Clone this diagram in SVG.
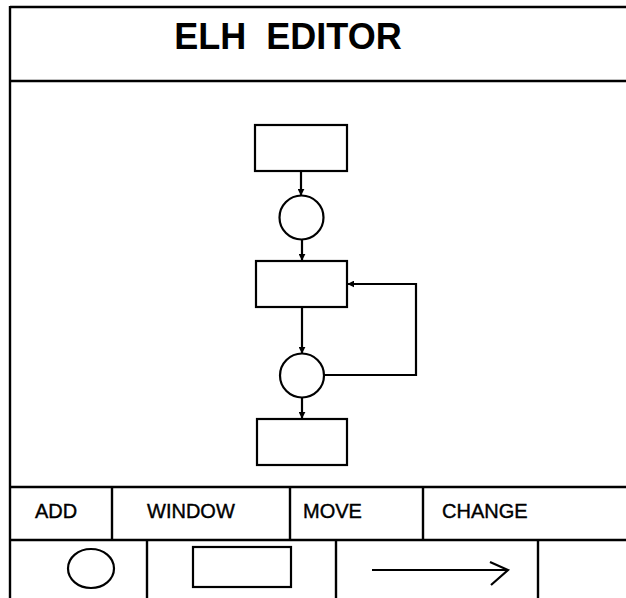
<svg xmlns="http://www.w3.org/2000/svg" width="626" height="598" viewBox="0 0 626 598">
  <style>
    .frame { stroke: #000; stroke-width: 2.4; fill: none; }
    .shape { stroke: #000; stroke-width: 2.2; fill: #fff; }
    .edge { stroke: #000; stroke-width: 2.2; fill: none; }
    .title { font-family: "Liberation Sans", Arial, sans-serif; font-size: 36px; font-weight: bold; fill: #000; }
    .menu { font-family: "Liberation Sans", Arial, sans-serif; font-size: 20px; fill: #000; stroke: #000; stroke-width: 0.4; }
  </style>
  <defs>
    <marker id="arrowhead" viewBox="0 0 10 10" refX="9" refY="5" markerWidth="7" markerHeight="7" markerUnits="userSpaceOnUse" orient="auto">
      <path d="M0,0 L10,5 L0,10 Z" fill="#000"/>
    </marker>
  </defs>
  <rect width="626" height="598" fill="#fff"/>

  <!-- window frame -->
  <g id="frame">
    <line class="frame" x1="10" y1="7" x2="626" y2="7"/>
    <line class="frame" x1="10" y1="6" x2="10" y2="598"/>
    <line class="frame" x1="10" y1="81" x2="626" y2="81"/>
    <line class="frame" x1="10" y1="487" x2="626" y2="487"/>
    <line class="frame" x1="10" y1="540" x2="626" y2="540"/>
  </g>

  <!-- title bar -->
  <g id="title">
    <text class="title" x="288" y="49" text-anchor="middle" xml:space="preserve">ELH  EDITOR</text>
  </g>

  <!-- structure diagram nodes -->
  <g id="box1"><rect class="shape" x="255" y="125" width="92" height="46"/></g>
  <g id="circle1"><circle class="shape" cx="301.5" cy="217.5" r="22"/></g>
  <g id="box2"><rect class="shape" x="256" y="261" width="91" height="46"/></g>
  <g id="circle2"><circle class="shape" cx="302" cy="375.5" r="22"/></g>
  <g id="box3"><rect class="shape" x="257" y="419" width="90" height="46"/></g>

  <!-- connectors -->
  <g id="connectors">
    <line class="edge" x1="301" y1="171" x2="301" y2="195" marker-end="url(#arrowhead)"/>
    <line class="edge" x1="302" y1="239.5" x2="302" y2="260" marker-end="url(#arrowhead)"/>
    <line class="edge" x1="302" y1="307" x2="302" y2="353" marker-end="url(#arrowhead)"/>
    <line class="edge" x1="302" y1="397.5" x2="302" y2="418" marker-end="url(#arrowhead)"/>
    <polyline class="edge" points="324,375 416,375 416,284 348,284" marker-end="url(#arrowhead)"/>
  </g>

  <!-- command menu -->
  <g id="menu">
    <line class="frame" x1="112" y1="487" x2="112" y2="540"/>
    <line class="frame" x1="290" y1="487" x2="290" y2="540"/>
    <line class="frame" x1="423" y1="487" x2="423" y2="540"/>
    <text class="menu" x="35" y="518">ADD</text>
    <text class="menu" x="147" y="518">WINDOW</text>
    <text class="menu" x="303" y="518">MOVE</text>
    <text class="menu" x="442" y="518">CHANGE</text>
  </g>

  <!-- shape palette -->
  <g id="palette">
    <line class="frame" x1="147" y1="540" x2="147" y2="598"/>
    <line class="frame" x1="336" y1="540" x2="336" y2="598"/>
    <line class="frame" x1="538" y1="540" x2="538" y2="598"/>
    <ellipse class="shape" cx="91" cy="568.5" rx="23" ry="19.5"/>
    <rect class="shape" x="193" y="547" width="98" height="40"/>
    <line class="edge" x1="372" y1="570" x2="508" y2="570" stroke-width="1.6"/>
    <polyline class="edge" points="490,562 508,570 491,585" stroke-width="1.6"/>
  </g>
</svg>
